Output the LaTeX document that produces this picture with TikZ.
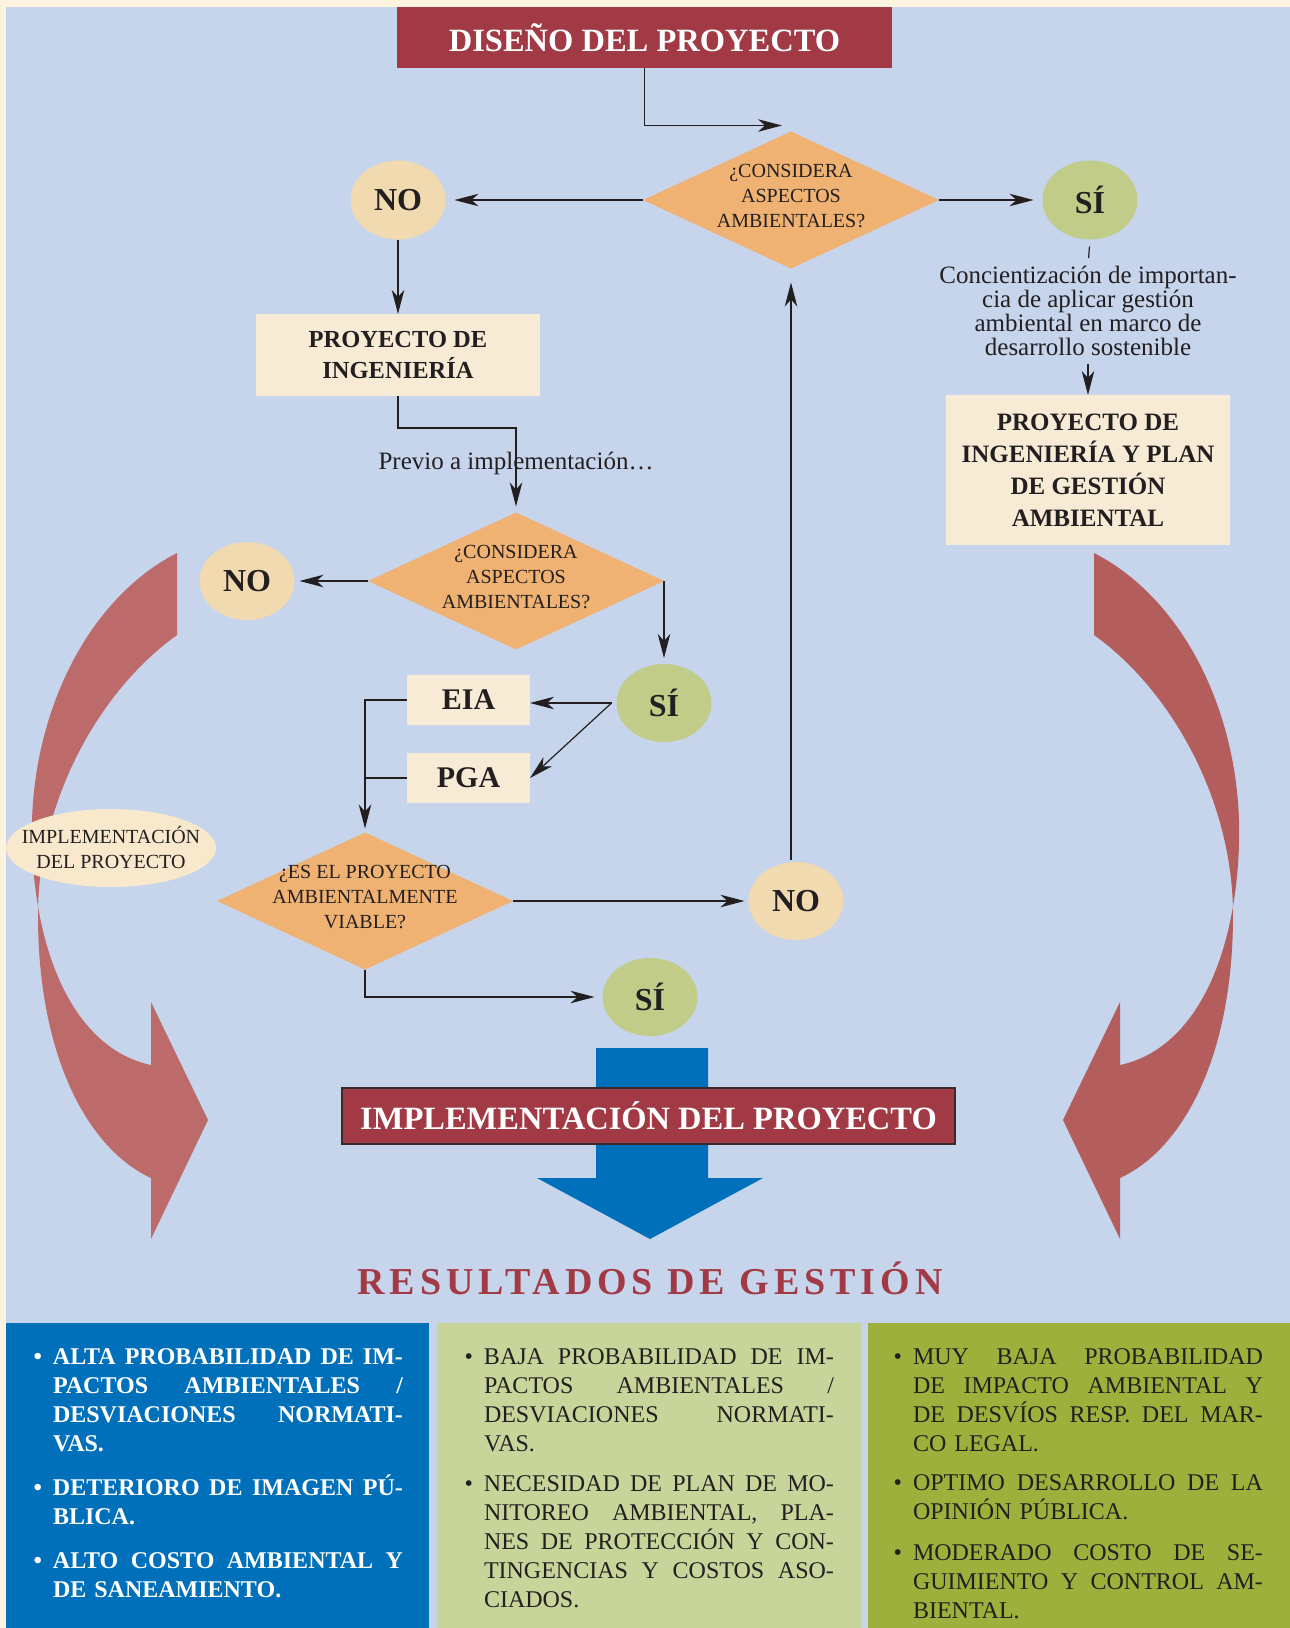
\documentclass[tikz,border=0pt]{standalone}
\usepackage{fontspec}
\setmainfont{Liberation Serif}
\usetikzlibrary{positioning, arrows.meta, calc, shapes.geometric}
\definecolor{fondo}{HTML}{C6D4EC}
\definecolor{crema}{HTML}{FEF3DE}
\definecolor{rojo}{HTML}{A23A45}
\definecolor{borde}{HTML}{3A2A2C}
\definecolor{naranja}{HTML}{F0B272}
\definecolor{nocolor}{HTML}{F2DAB0}
\definecolor{sicolor}{HTML}{C1CC88}
\definecolor{cajacolor}{HTML}{F8EBD6}
\definecolor{elipsecolor}{HTML}{F8E8CC}
\definecolor{flechaiz}{HTML}{BC6B6A}
\definecolor{flechader}{HTML}{B35E5D}
\definecolor{azul}{HTML}{0070BA}
\definecolor{verdeclaro}{HTML}{C8D59A}
\definecolor{oliva}{HTML}{9DB03C}
\definecolor{tinta}{HTML}{231F20}

\newcommand{\fs}[2]{\fontsize{#1}{#2}\selectfont}
\newcommand{\jl}[1]{\makebox[350pt][s]{\spaceskip=.25em plus 1fil\xspaceskip=.25em plus 1fil\relax #1}\\}
\newcommand{\bl}{\leavevmode\llap{\textbullet\hspace{11pt}}}

\begin{document}
\begin{tikzpicture}[x=1pt, y=-1pt,
    every node/.style={inner sep=0pt, outer sep=0pt, text=tinta},
    linea/.style={line width=1.2pt, draw=tinta},
    flecha/.style={linea, -{Stealth[length=24pt, width=12.5pt, inset=7pt]}},
    rombo/.style={diamond, aspect=2.16, fill=naranja, minimum width=296pt, minimum height=137pt, inner sep=-15pt, align=center, font=\fs{20}{25},
        execute at end node={\rule[-8pt]{0pt}{8pt}}},
    opno/.style={ellipse, fill=nocolor, minimum width=95pt, minimum height=79pt, font=\fs{32}{36}\bfseries},
    opsi/.style={opno, fill=sicolor},
    caja/.style={rectangle, fill=cajacolor, align=center, font=\fs{25}{32}\bfseries},
    titulo/.style={rectangle, fill=rojo, text=white, font=\fs{32.5}{36}\bfseries},
    lista/.style={anchor=north west, text width=350pt, align=left, font=\fs{24}{29}}]
        \useasboundingbox (0,0) rectangle (1290,1628);
        % fondo
        \fill[crema] (0,0) rectangle (1290,1628);
        \fill[fondo] (6,7) rectangle (1290,1628);

        % flechas curvas
        \fill[flechaiz] (177,553) .. controls (85,600) and (28,720) .. (32,845) .. controls (36,965) and (80,1050) .. (151,1065)
            -- (151,1002) -- (208,1120) -- (151,1239) -- (151,1178)
            .. controls (90,1150) and (38,1060) .. (38,915) .. controls (38,800) and (100,690) .. (177,635) -- cycle;
        \fill[flechader] (1094,553) .. controls (1186,600) and (1243,720) .. (1239,845) .. controls (1235,965) and (1191,1050) .. (1120,1065)
            -- (1120,1002) -- (1063,1120) -- (1120,1239) -- (1120,1178)
            .. controls (1181,1150) and (1233,1060) .. (1233,915) .. controls (1233,800) and (1171,690) .. (1094,635) -- cycle;

        % flecha azul
        \fill[azul] (596,1048) -- (708,1048) -- (708,1178) -- (763,1178) -- (650,1239) -- (537,1178) -- (596,1178) -- cycle;

        % parte superior
        \node[titulo, minimum width=495pt, minimum height=61pt] (diseno) at (644.5,37.5) {DISEÑO DEL PROYECTO};
        \node[rombo] (d1) at (791,200) {¿CONSIDERA\\ASPECTOS\\AMBIENTALES?};
        \node[opno] (no1) at (398,200) {NO};
        \node[opsi] (si1) at (1090,200) {SÍ};
        \draw[flecha] (diseno.south) |- ([xshift=-9pt, yshift=6pt]d1.north);
        \draw[flecha, shorten >=9pt] (d1.west) -- (no1.east);
        \draw[flecha, shorten >=9pt] (d1.east) -- (si1.west);

        % rama SI
        \node[align=center, font=\fs{25}{24}, anchor=north] (conc) at (1088,266) {Concientización de importan-\\cia de aplicar gestión\\ambiental en marco de\\desarrollo sostenible};
        \node[caja, minimum width=284pt, minimum height=150pt] (pia) at (1088,470) {PROYECTO DE\\INGENIERÍA Y PLAN\\DE GESTIÓN\\AMBIENTAL};
        \draw[linea, shorten <=7pt, shorten >=8pt] (si1.south) -- (conc.north);
        \draw[flecha, shorten <=8pt] (conc.south) -- (pia.north);

        % rama NO
        \node[caja, font=\fs{24.5}{31}\bfseries, minimum width=284pt, minimum height=82pt] (pi) at (398,355) {PROYECTO DE\\INGENIERÍA};
        \draw[flecha] (no1.south) -- (pi.north);
        \node[rombo] (d2) at (516,581) {¿CONSIDERA\\ASPECTOS\\AMBIENTALES?};
        \draw[flecha, shorten >=6pt] (pi.south) -- ++(0,32) -| (d2.north);
        \node[font=\fs{25}{30}] (previo) at (516,463) {Previo a implementación\dots};
        \node[opno, minimum height=78pt] (no2) at (247,581) {NO};
        \node[opsi, minimum height=78pt] (si2) at (664,703) {SÍ};
        \draw[flecha, shorten >=5pt] (d2.west) -- (no2.east);
        \draw[flecha, shorten >=6pt] (d2.east) -- (si2.north);

        % EIA y PGA
        \node[caja, font=\fs{30}{34}\bfseries, minimum width=123pt, minimum height=50pt] (eia) at (468.5,700) {EIA};
        \node[caja, font=\fs{30}{34}\bfseries, minimum width=123pt, minimum height=50pt] (pga) at (468.5,778) {PGA};
        \coordinate (bif) at ([xshift=-5pt]si2.west);
        \draw[flecha] (bif) -- (bif -| eia.east);
        \draw[flecha] (bif) -- (pga.east);
        \node[rombo] (d3) at (365,901) {¿ES EL PROYECTO\\AMBIENTALMENTE\\VIABLE?};
        \draw[flecha, shorten >=4pt] (eia.west) -| (d3.north);
        \draw[linea] (pga.west) -- (pga.west -| d3.north);

        % viabilidad
        \node[opno, minimum height=78pt] (no3) at (796,901) {NO};
        \node[opsi, minimum height=78pt] (si3) at (650,997) {SÍ};
        \draw[flecha, shorten >=4pt] (d3.east) -- (no3.west);
        \draw[flecha, shorten >=14pt, shorten <=2pt] (no3.north -| d1.south) -- (d1.south);
        \draw[flecha, shorten >=8pt] (d3.south) |- (si3.west);

        \node[ellipse, fill=elipsecolor, minimum width=210pt, minimum height=78pt, inner sep=-18pt, align=center, font=\fs{20}{25}] (implel) at (111,848) {IMPLEMENTACIÓN\\DEL PROYECTO};
        \node[titulo, draw=borde, line width=1.2pt, minimum width=613pt, minimum height=56pt] (implem) at (648.5,1116) {IMPLEMENTACIÓN DEL PROYECTO};
        \node[anchor=base, text=rojo, font=\fs{38}{40}\bfseries\addfontfeatures{LetterSpace=13}] (result) at (650,1294) {RESULTADOS DE GESTIÓN};

        % resultados
        \fill[azul] (6,1323) rectangle (429,1628);
        \fill[verdeclaro] (437,1323) rectangle (861,1628);
        \fill[oliva] (868,1323) rectangle (1290,1628);
        \node[lista, text=white, font=\fs{24}{29}\bfseries] (lista1) at (53,1349) {%
\bl\jl{ALTA PROBABILIDAD DE IM-}\jl{PACTOS AMBIENTALES /}\jl{DESVIACIONES NORMATI-}VAS.\\[15pt]
\bl\jl{DETERIORO DE IMAGEN PÚ-}BLICA.\\[15pt]
\bl\jl{ALTO COSTO AMBIENTAL Y}DE SANEAMIENTO.};
        \node[lista] (lista2) at (484,1349) {%
\bl\jl{BAJA PROBABILIDAD DE IM-}\jl{PACTOS AMBIENTALES /}\jl{DESVIACIONES NORMATI-}VAS.\\[11pt]
\bl\jl{NECESIDAD DE PLAN DE MO-}\jl{NITOREO AMBIENTAL, PLA-}\jl{NES DE PROTECCIÓN Y CON-}\jl{TINGENCIAS Y COSTOS ASO-}CIADOS.};
        \node[lista] (lista3) at (913,1349) {%
\bl\jl{MUY BAJA PROBABILIDAD}\jl{DE IMPACTO AMBIENTAL Y}\jl{DE DESVÍOS RESP. DEL MAR-}CO LEGAL.\\[10pt]
\bl\jl{OPTIMO DESARROLLO DE LA}OPINIÓN PÚBLICA.\\[12pt]
\bl\jl{MODERADO COSTO DE SE-}\jl{GUIMIENTO Y CONTROL AM-}BIENTAL.};
\end{tikzpicture}
\end{document}
